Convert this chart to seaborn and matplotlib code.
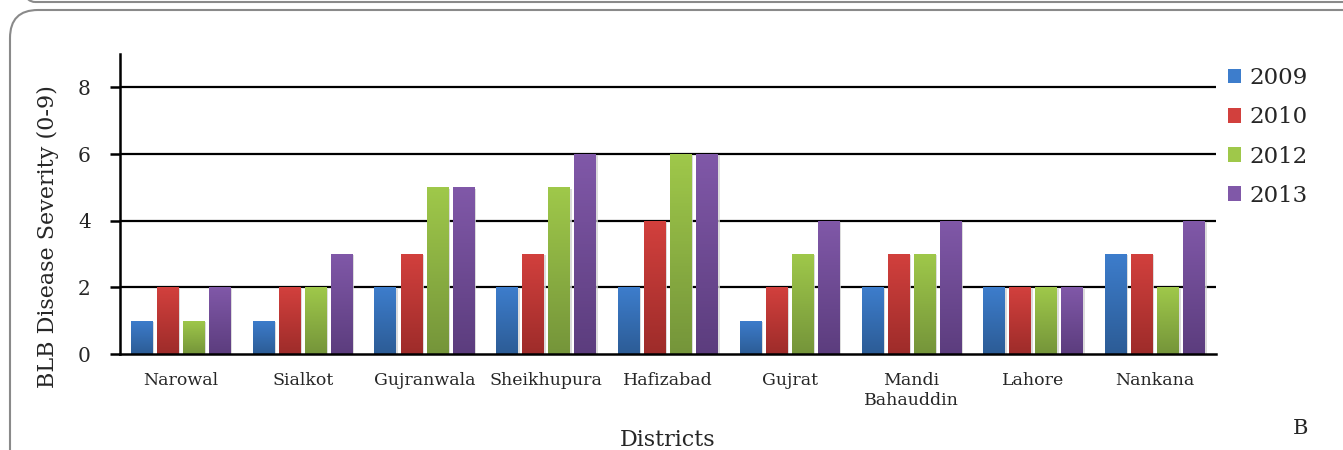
import numpy as np
import pandas as pd
import matplotlib
matplotlib.use("Agg")
import matplotlib.pyplot as plt
import seaborn as sns
from matplotlib.patches import FancyBboxPatch, Patch
from matplotlib.colors import LinearSegmentedColormap

districts = ["Narowal", "Sialkot", "Gujranwala", "Sheikhupura", "Hafizabad",
             "Gujrat", "Mandi\nBahauddin", "Lahore", "Nankana"]
years = ["2009", "2010", "2012", "2013"]
sev_2009 = [1, 1, 2, 2, 2, 1, 2, 2, 3]
sev_2010 = [2, 2, 3, 3, 4, 2, 3, 2, 3]
sev_2012 = [1, 2, 5, 5, 6, 3, 3, 2, 2]
sev_2013 = [2, 3, 5, 6, 6, 4, 4, 2, 4]
yticks = [0, 2, 4, 6, 8]

top_cols = ["#3D7DCC", "#D2403D", "#9FC84A", "#8058A8"]
bot_cols = ["#2C5C96", "#9E2C2A", "#75953A", "#5C3D7E"]

df = pd.DataFrame({
    "District": districts * 4,
    "Year": sum([[y] * len(districts) for y in years], []),
    "Severity": sev_2009 + sev_2010 + sev_2012 + sev_2013,
})

sns.set_style("white")
plt.rcParams["font.family"] = ["DejaVu Serif"]

fig = plt.figure(figsize=(13.43, 4.5), dpi=100)
ax = fig.add_axes([0.0894, 0.2133, 0.9054 - 0.0894, 0.88 - 0.2133])

sns.barplot(data=df, x="District", y="Severity", hue="Year", order=districts,
            hue_order=years, palette=top_cols, width=0.856, gap=0.16,
            ax=ax, legend=False, zorder=3)

# gradient fill + soft shadow for each bar
patches = list(ax.patches)
for i, p in enumerate(patches):
    k = i // len(districts)
    x0, y0 = p.get_x(), p.get_y()
    w, h = p.get_width(), p.get_height()
    cmap = LinearSegmentedColormap.from_list("g", [bot_cols[k], top_cols[k]])
    sh = plt.Rectangle((x0 + 0.012, y0), w, h - 0.04, facecolor="#d4d4d4",
                       edgecolor="none", zorder=2.5, alpha=0.8)
    ax.add_patch(sh)
    grad = np.linspace(0, 1, 64).reshape(-1, 1)
    im = ax.imshow(grad, extent=(x0, x0 + w, y0, y0 + h), origin="lower",
                   cmap=cmap, aspect="auto", zorder=3.5)
    im.set_clip_path(p)
    p.set_edgecolor("none")

ax.set_xlim(-0.5, 8.5)
ax.set_ylim(0, 9)
ax.set_yticks(yticks)
for y in yticks[1:]:
    ax.axhline(y, color="black", linewidth=1.6, zorder=1)

for s in ["top", "right"]:
    ax.spines[s].set_visible(False)
for s in ["left", "bottom"]:
    ax.spines[s].set_linewidth(1.8)
    ax.spines[s].set_color("black")
    ax.spines[s].set_zorder(5)

ax.set_xticks(np.arange(-0.5, 9, 1), minor=True)
ax.tick_params(axis="x", which="major", length=0, labelsize=12.5, pad=13)
ax.tick_params(axis="x", which="minor", length=7, width=1.8, color="black",
               direction="out")
ax.tick_params(axis="y", length=7, width=1.8, color="black", direction="out",
               labelsize=14.5, left=True, pad=14)

ax.set_xlabel("Districts", fontsize=16)
ax.xaxis.label.set_va("center")
ax.xaxis.set_label_coords(0.5, -0.287)
ax.set_ylabel("BLB Disease Severity (0-9)", fontsize=16)
ax.yaxis.label.set_va("center")
ax.yaxis.set_label_coords(-0.0657, 0.39)

handles = [Patch(facecolor=c, edgecolor="none") for c in top_cols]
fig.legend(handles, years, loc="upper left", bbox_to_anchor=(0.9055, 0.876),
           frameon=False, fontsize=16.5, handlelength=0.6, handleheight=0.6,
           handletextpad=0.35, labelspacing=0.75, borderpad=0)

fig.text(0.968, 0.048, "B", fontsize=15, ha="center", va="center")

# rounded panel frames (in inches)
frame = FancyBboxPatch((0.1, -1.0), 20, 5.4,
                       boxstyle="round,pad=0,rounding_size=0.28",
                       transform=fig.dpi_scale_trans, facecolor="none",
                       edgecolor="#8a8a8a", linewidth=1.5, clip_on=False)
fig.add_artist(frame)
top_frame = FancyBboxPatch((0.05, 4.48), 20, 2,
                           boxstyle="round,pad=0,rounding_size=0.3",
                           transform=fig.dpi_scale_trans, facecolor="none",
                           edgecolor="#8a8a8a", linewidth=1.5, clip_on=False)
fig.add_artist(top_frame)

fig.savefig("out.png", dpi=100)
